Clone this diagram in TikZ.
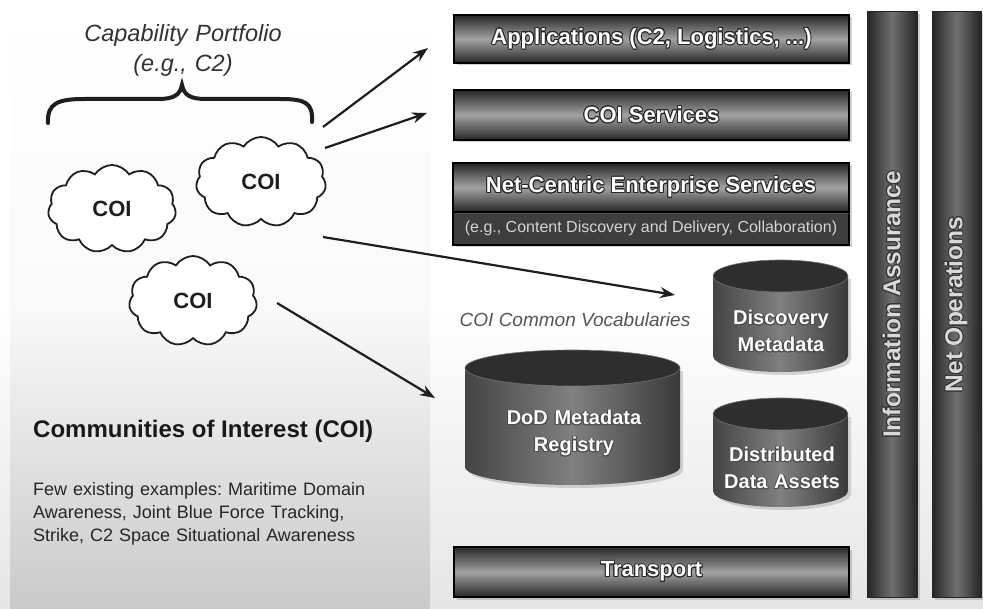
\documentclass[tikz,border=0pt]{standalone}
\usepackage{fontspec}
\setmainfont{Liberation Sans}
\usepackage[copies]{contour}
\contourlength{0.9pt}
\usetikzlibrary{shapes.symbols,arrows.meta,shadows}
\definecolor{bardark}{HTML}{262626}
\definecolor{barlight}{HTML}{A2A2A2}
\definecolor{coldark}{HTML}{252525}
\definecolor{collight}{HTML}{707070}
\definecolor{cylside}{HTML}{444444}
\definecolor{cylmid}{HTML}{808080}
\definecolor{cyltopc}{HTML}{2E2E2E}
\definecolor{inkc}{HTML}{1E1E1E}
\definecolor{vocab}{HTML}{555555}
\definecolor{subfill}{HTML}{3E3E3E}
\definecolor{subtext}{HTML}{D4D4D4}
\frenchspacing
\begin{document}
\begin{tikzpicture}[x=1pt,y=-1pt,
  barbox/.style={draw=black, line width=1.4pt, top color=bardark, bottom color=bardark, middle color=barlight,
    drop shadow={opacity=0.35, shadow xshift=2.5pt, shadow yshift=-2.5pt},
    font=\fontsize{22}{26}\selectfont\bfseries, text=white, inner sep=0pt},
  colbox/.style={draw=black!85, line width=1pt, left color=coldark, right color=coldark, middle color=collight,
    drop shadow={opacity=0.35, shadow xshift=2.5pt, shadow yshift=-2.5pt},
    font=\fontsize{24.5}{28}\selectfont\bfseries, text=black!15, inner sep=0pt},
  cloudbox/.style={cloud, cloud puffs=11, cloud puff arc=115, aspect=1.45, draw=inkc, line width=1.8pt, fill=white,
    inner sep=0pt, font=\fontsize{22}{26}\selectfont\bfseries, text=inkc},
  cylbody/.style={left color=cylside, right color=cylside!85!black, middle color=cylmid,
    drop shadow={opacity=0.3, shadow xshift=3pt, shadow yshift=-3pt}},
  cyltop/.style={fill=cyltopc, draw=black!55, line width=0.6pt},
  cyltext/.style={font=\fontsize{20}{27}\selectfont\bfseries, text=white, align=center, text width=160pt, inner sep=0pt, anchor=base},
  arr/.style={line width=2.2pt, draw=inkc, -{Stealth[length=15pt, width=11pt]}}
]
\useasboundingbox (0,0) rectangle (983,609);
% backgrounds
\shade[top color=white, bottom color=black!10, middle color=white] (0,0) rectangle (983,609);
\shade[top color=white, bottom color=black!21, middle color=black!2] (10,0) rectangle (430,609);

% brace
\draw[line width=4pt, inkc, line cap=round]
  (48,123) .. controls (47,103) and (58,99) .. (85,99) -- (158,99)
  .. controls (174,99) and (180,95) .. (182,85)
  .. controls (184,95) and (190,99) .. (206,99) -- (280,99)
  .. controls (306,99) and (313,103) .. (312,122);
\node[font=\fontsize{23.5}{30}\selectfont\itshape, text=black!80, align=center, text width=260pt, anchor=base, inner sep=0pt]
  (cap) at (183,42) {Capability Portfolio\\(e.g., C2)};

% clouds
\node[cloudbox, minimum width=128pt, minimum height=88pt] (c1) at (112,209) {COI};
\node[cloudbox, minimum width=130pt, minimum height=90pt] (c2) at (261,182) {COI};
\node[cloudbox, minimum width=128pt, minimum height=90pt] (c3) at (193,301) {COI};

% left texts
\node[font=\fontsize{24}{28}\selectfont\bfseries, text=black!90, anchor=base west, inner sep=0pt] (coi) at (33,438)
  {Communities of Interest (COI)};
\node[font=\fontsize{18}{23.5}\selectfont, text=black!85, anchor=base west, align=left, text width=400pt, inner sep=0pt]
  (ex) at (33,495) {Few existing examples: Maritime Domain\\Awareness, Joint Blue Force Tracking,\\Strike, C2 Space Situational Awareness};

% layer bars
\node[barbox, minimum width=395pt, minimum height=48pt] (app) at (651.5,39) {\contour{black!85}{Applications (C2, Logistics, ...)}};
\node[barbox, minimum width=395pt, minimum height=50pt] (coisvc) at (651.5,115) {\contour{black!85}{COI Services}};
\node[draw=black, line width=1.4pt, fill=subfill, minimum width=396pt, minimum height=33pt, inner sep=0pt,
  drop shadow={opacity=0.35, shadow xshift=2.5pt, shadow yshift=-2.5pt},
  font=\fontsize{16}{19}\selectfont, text=subtext] (ncsub) at (651,228.5)
  {(e.g., Content Discovery and Delivery, Collaboration)};
\node[barbox, minimum width=396pt, minimum height=49pt] (nces) at (651,187.5) {\contour{black!85}{Net-Centric Enterprise Services}};
\node[barbox, minimum width=395pt, minimum height=50pt] (transport) at (651.5,572) {\contour{black!85}{Transport}};

% vertical columns
\node[colbox, minimum width=50pt, minimum height=585pt] (ia) at (892,304.5) {\rotatebox{90}{\contour{black!80}{Information Assurance}}};
\node[colbox, minimum width=49pt, minimum height=585pt] (netops) at (956.5,304.5) {\rotatebox{90}{\contour{black!80}{Net Operations}}};

% cylinders
\shade[cylbody] (713,276) -- (713,356) arc[start angle=180, end angle=360, x radius=67.5pt, y radius=16pt] -- (848,276) -- cycle;
\filldraw[cyltop] (780.5,276) ellipse [x radius=67.5pt, y radius=16pt];
\node[cyltext] (disc) at (781,325) {\contour{black!70}{Discovery}\\\contour{black!70}{Metadata}};

\shade[cylbody] (713,414) -- (713,491) arc[start angle=180, end angle=360, x radius=67.5pt, y radius=16pt] -- (848,414) -- cycle;
\filldraw[cyltop] (780.5,414) ellipse [x radius=67.5pt, y radius=16pt];
\node[cyltext] (dist) at (782,462) {\contour{black!70}{Distributed}\\\contour{black!70}{Data Assets}};

\shade[cylbody] (465,368) -- (465,467) arc[start angle=180, end angle=360, x radius=107.5pt, y radius=18pt] -- (680,368) -- cycle;
\filldraw[cyltop] (572.5,368) ellipse [x radius=107.5pt, y radius=18pt];
\node[cyltext] (dod) at (574,425) {\contour{black!70}{DoD Metadata}\\\contour{black!70}{Registry}};

\node[font=\fontsize{19}{22}\selectfont\itshape, text=vocab, inner sep=0pt] (vocabl) at (575,320) {COI Common Vocabularies};

% arrows
\coordinate (a1s) at (323,127); \coordinate (a1e) at (428,48);
\coordinate (a2s) at (325,148); \coordinate (a2e) at (427,113);
\coordinate (a3s) at (323,237); \coordinate (a3e) at (675,295);
\coordinate (a4s) at (277,303); \coordinate (a4e) at (435,398);
\draw[arr] (a1s) -- (a1e);
\draw[arr] (a2s) -- (a2e);
\draw[arr] (a3s) -- (a3e);
\draw[arr] (a4s) -- (a4e);
\end{tikzpicture}
\end{document}
